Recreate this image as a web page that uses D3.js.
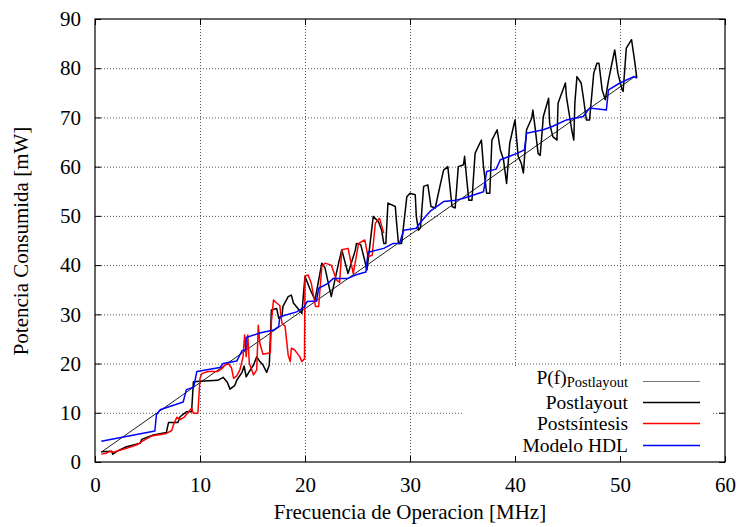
<!DOCTYPE html>
<html>
<head>
<meta charset="utf-8">
<script src="https://cdn.jsdelivr.net/npm/d3@7"></script>
<style>
  body { margin: 0; background: #fff; }
  svg text { font-family: "Liberation Serif", "Times New Roman", serif; fill: #000; }
</style>
</head>
<body>
<script>
// data
const fitX = [0.6, 51.6];
const fitY = [2.0, 78.6];

const postlayoutX = [0.6,1.6,1.7,2.2,3.0,4.3,4.45,5.55,6.8,7.0,7.9,8.1,8.7,9.2,9.37,10.0,11.7,12.2,12.6,12.86,13.3,13.5,14.0,14.2,14.4,14.7,15.1,15.4,15.7,16.0,16.35,16.6,16.8,17.3,17.5,17.8,17.9,18.4,18.7,18.9,19.4,19.7,
  20.0,20.5,20.95,21.6,21.9,22.5,23.2,23.5,24.1,24.8,24.9,25.3,25.6,25.9,26.5,27.0,27.3,27.5,27.7,27.9,28.6,28.7,28.9,29.2,29.7,30.0,30.5,30.6,30.8,31.0,31.3,31.7,32.0,32.4,32.9,33.2,33.6,33.8,34.0,34.3,34.6,35.1,35.2,35.4,35.6,35.9,36.2,36.5,36.8,37.0,37.3,37.6,37.8,38.3,38.6,38.9,39.2,39.5,40.0,40.3,40.6,40.8,41.1,41.6,41.7,41.9,42.2,42.4,42.7,43.2,43.3,43.6,44.0,44.1,44.8,44.9,45.4,45.6,45.7,45.9,46.3,46.5,46.8,47.1,47.5,47.8,48.0,48.3,48.6,48.9,49.2,49.5,49.8,50.2,50.3,50.6,51.1,51.4,51.6];
const postlayoutY = [2.1,2.2,1.6,2.3,3.1,3.8,4.6,5.5,6.0,8.0,8.0,9.2,10.2,10.2,16.3,16.4,16.6,17.2,16.2,14.8,15.5,16.6,18.2,19.5,17.3,18.4,19.7,21.4,20.4,19.7,18.2,19.7,30.9,31.2,29.2,29.5,31.6,33.6,33.9,32.3,31.0,30.2,
  37.7,35.0,32.9,40.4,39.5,33.6,40.4,43.1,38.3,43.1,44.4,44.2,41.7,39.0,49.9,48.8,47.1,44.4,44.4,52.6,51.9,49.2,44.4,44.4,53.9,54.6,54.3,49.9,47.1,47.6,56.0,56.3,51.9,51.6,56.5,59.3,60.0,56.0,51.9,51.6,60.0,60.4,62.1,57.5,53.2,53.2,62.7,64.1,65.4,60.0,54.6,54.6,65.4,67.5,63.4,61.5,56.6,64.8,69.5,62.1,60.7,58.7,67.5,69.9,71.5,68.2,62.7,62.3,70.2,73.9,68.8,66.1,65.4,72.9,77.0,74.2,67.5,65.4,72.9,78.3,77.0,74.2,69.5,69.5,79.0,81.0,81.0,75.6,73.6,77.5,80.7,83.7,79.0,75.6,75.3,84.1,85.8,81.4,78.0];

const postsintesisX = [0.6,1.1,1.4,1.8,2.2,3.0,4.0,4.4,5.4,6.8,7.3,7.5,7.8,8.1,8.5,8.9,9.2,9.37,9.8,10.0,10.2,10.8,11.7,12.1,12.4,12.7,13.0,13.2,13.5,13.8,14.1,14.25,14.4,14.55,14.7,15.1,15.4,15.55,15.7,16.0,16.7,16.8,17.0,17.3,17.6,17.8,18.1,18.4,18.6,18.7,19.0,19.5,19.7,19.95,
  20.0,20.3,20.6,21.0,21.3,21.6,21.9,22.5,23.0,23.3,23.5,24.1,24.6,25.1,25.7,26.0,26.4,26.7,27.1,27.5];
const postsintesisY = [1.6,1.8,2.2,2.0,2.3,2.8,3.5,4.1,5.3,5.8,6.4,7.7,9.1,8.6,9.1,10.2,10.9,9.9,9.9,17.0,18.0,18.4,18.4,19.0,19.7,20.0,19.1,17.0,17.5,18.7,21.4,25.8,21.4,25.8,20.0,17.7,18.7,27.8,24.1,21.9,22.2,28.5,32.9,32.3,31.8,28.2,27.6,21.7,20.4,23.1,22.8,21.4,20.4,21.0,
  37.8,38.0,36.3,31.6,31.6,39.7,40.4,40.0,37.0,36.5,43.1,43.4,38.3,44.4,45.1,41.7,42.0,48.5,49.5,46.5];

const hdlX = [0.6,5.7,5.85,6.2,8.4,8.7,9.4,9.7,11.9,12.2,13.5,14.0,14.35,14.4,15.7,17.0,17.5,17.6,19.2,19.9,20.2,21.1,21.3,22.2,22.7,24.1,24.8,25.8,26.0,27.5,28.4,29.0,29.4,30.6,31.0,31.9,33.2,34.4,35.1,37.0,37.3,38.2,38.6,40.2,40.9,41.1,42.7,43.6,44.9,46.5,47.1,48.7,48.9,50.0,51.3,51.6];
const hdlY = [4.2,6.3,9.6,10.6,12.2,14.7,15.2,18.4,19.2,20.0,20.5,22.6,22.8,25.3,26.2,26.8,27.5,29.5,30.5,31.4,32.6,32.7,35.3,36.3,37.3,37.3,38.0,38.6,42.6,43.4,44.4,44.4,47.1,47.5,48.7,50.9,52.9,53.2,53.6,54.9,59.0,59.5,61.4,62.7,63.4,66.8,67.5,68.2,69.5,70.2,71.9,71.5,75.6,77.0,78.3,78.0];

const xTicks = [0, 10, 20, 30, 40, 50, 60];
const yTicks = [0, 10, 20, 30, 40, 50, 60, 70, 80, 90];

const width = 738;
const height = 527;
const margin = { left: 95, right: 12, top: 19, bottom: 65 };

const svg = d3.select("body")
  .append("svg")
  .attr("width", width)
  .attr("height", height);

const x = d3.scaleLinear().domain([0, 60]).range([margin.left, width - margin.right - 1]);
const y = d3.scaleLinear().domain([0, 90]).range([height - margin.bottom, margin.top]);

//dotted grid
const grid = svg.append("g").attr("stroke", "#555").attr("stroke-width", 1).attr("stroke-dasharray", "1,2");
grid.selectAll("line.gx")
  .data(xTicks.slice(1, -1))
  .enter()
  .append("line")
  .attr("x1", (d) => x(d) + 0.5)
  .attr("x2", (d) => x(d) + 0.5)
  .attr("y1", y(0))
  .attr("y2", y(90));
grid.selectAll("line.gy")
  .data(yTicks.slice(1, -1))
  .enter()
  .append("line")
  .attr("y1", (d) => y(d) + 0.5)
  .attr("y2", (d) => y(d) + 0.5)
  .attr("x1", x(0))
  .attr("x2", x(60));

//axes with inward ticks
const fontSize = 21;
const xAxis = svg.append("g")
  .attr("transform", `translate(0,${y(0)})`)
  .call(d3.axisBottom(x).tickValues(xTicks).tickSize(-6).tickPadding(15));
const yAxis = svg.append("g")
  .attr("transform", `translate(${x(0)},0)`)
  .call(d3.axisLeft(y).tickValues(yTicks).tickSize(-6).tickPadding(14));
const xTop = svg.append("g")
  .attr("transform", `translate(0,${y(90)})`)
  .call(d3.axisTop(x).tickValues(xTicks).tickSize(-6).tickFormat(""));
const yRight = svg.append("g")
  .attr("transform", `translate(${x(60)},0)`)
  .call(d3.axisRight(y).tickValues(yTicks).tickSize(-6).tickFormat(""));

[xAxis, yAxis, xTop, yRight].forEach((a) => {
  a.select(".domain").remove();
  a.selectAll("line").attr("stroke", "#000");
  a.selectAll("text")
    .style("font-family", '"Liberation Serif", serif')
    .style("font-size", fontSize + "px");
});

//data lines
const line = d3.line().x((d) => x(d[0])).y((d) => y(d[1]));
const series = [
  { name: "fit", xs: fitX, ys: fitY, color: "#000", w: 0.9 },
  { name: "Postlayout", xs: postlayoutX, ys: postlayoutY, color: "#000", w: 1.5 },
  { name: "Postsíntesis", xs: postsintesisX, ys: postsintesisY, color: "#ff0000", w: 1.5 },
  { name: "Modelo HDL", xs: hdlX, ys: hdlY, color: "#0000ff", w: 1.5 }
];

//legend box (opaque, no border)
svg.append("rect")
  .attr("x", 463)
  .attr("y", 368)
  .attr("width", 250)
  .attr("height", 88)
  .attr("fill", "#fff");

series.forEach((s) => {
  svg.append("path")
    .datum(s.xs.map((v, i) => [v, s.ys[i]]))
    .attr("fill", "none")
    .attr("stroke", s.color)
    .attr("stroke-width", s.w)
    .attr("stroke-linejoin", "round")
    .attr("d", line);
});

//frame
svg.append("rect")
  .attr("x", x(0))
  .attr("y", y(90))
  .attr("width", x(60) - x(0))
  .attr("height", y(0) - y(90))
  .attr("fill", "none")
  .attr("stroke", "#000")
  .attr("stroke-width", 1.2);

//legend
const legendFont = 19.5;
const legendRows = [381, 402, 423, 445];
const legend = svg.append("g");
series.forEach((s, i) => {
  legend.append("line")
    .attr("x1", 643)
    .attr("x2", 700)
    .attr("y1", legendRows[i] + 0.5)
    .attr("y2", legendRows[i] + 0.5)
    .attr("stroke", i === 0 ? "#777" : s.color)
    .attr("stroke-width", i === 0 ? 1.2 : 1.5);
  const t = legend.append("text")
    .attr("x", 628)
    .attr("y", legendRows[i] + (i === 0 ? 3 : 7))
    .attr("text-anchor", "end")
    .style("font-size", legendFont + "px");
  if (i === 0) {
    t.append("tspan").text("P(f)");
    t.append("tspan").attr("dy", 3).style("font-size", "14.5px").text("Postlayout");
  } else {
    t.text(s.name);
  }
});

//axis titles
svg.append("text")
  .attr("x", 410)
  .attr("y", 519)
  .attr("text-anchor", "middle")
  .style("font-size", fontSize + "px")
  .text("Frecuencia de Operacion [MHz]");
svg.append("text")
  .attr("transform", "translate(28,241) rotate(-90)")
  .attr("text-anchor", "middle")
  .style("font-size", fontSize + "px")
  .text("Potencia Consumida [mW]");
</script>
</body>
</html>
